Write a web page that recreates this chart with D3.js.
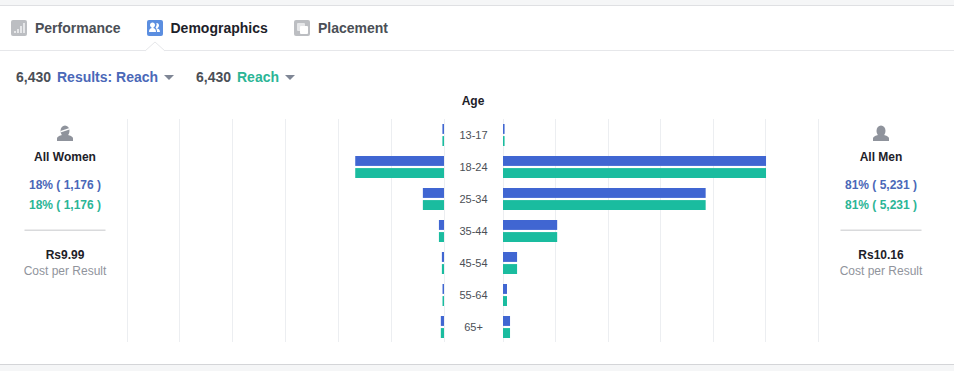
<!DOCTYPE html>
<html>
<head>
<meta charset="utf-8">
<script src="https://cdn.jsdelivr.net/npm/d3@7"></script>
<style>
html,body{margin:0;padding:0;background:#fff;overflow:hidden}
svg{display:block;font-family:"Liberation Sans",Arial,sans-serif}
</style>
</head>
<body>
<div id="chart"></div>
<script>
const ageGroups = ["13-17","18-24","25-34","35-44","45-54","55-64","65+"];
const womenResults = [15,840,200,48,20,14,30];
const womenReach   = [15,840,200,48,20,14,30];
const menResults   = [15,2505,1930,516,134,38,67];
const menReach     = [15,2505,1930,516,134,38,67];
const gridTicks = [0,500,1000,1500,2000,2500,3000];
const tabLabels = ["Performance","Demographics","Placement"];

const W=954,H=371;
const BLUE="#4066d2",GREEN="#1abc9f",TBLUE="#4a68b8",TGREEN="#2bb596";
const svg=d3.select("#chart").append("svg").attr("width",W).attr("height",H);

// page frame
svg.append("rect").attr("width",W).attr("height",5).attr("fill","#f5f6f7");
svg.append("rect").attr("y",5).attr("width",W).attr("height",1).attr("fill","#dfe0e3");
svg.append("rect").attr("y",50).attr("width",W).attr("height",1).attr("fill","#e6e7ea");
svg.append("rect").attr("y",364).attr("width",W).attr("height",1).attr("fill","#d4d5d8");
svg.append("rect").attr("y",365).attr("width",W).attr("height",6).attr("fill","#f5f6f7");
// active tab pointer
svg.append("path").attr("d","M145 51L155 42L165 51").attr("fill","#fff").attr("stroke","#e6e7ea");

// tabs
const tabX=[35,170.500,318], iconX=[11,147,294], tabCol=["#4b4f56","#1d2129","#4b4f56"], iconCol=["#bcbec2","#5b8ee0","#bcbec2"];
tabLabels.forEach((t,i)=>{
  svg.append("rect").attr("x",iconX[i]).attr("y",20).attr("width",16).attr("height",16).attr("rx",2).attr("fill",iconCol[i]);
  svg.append("text").attr("x",tabX[i]).attr("y",33).attr("font-size",14).attr("font-weight",700)
    .attr("fill",tabCol[i]).text(t);
});
const g0=svg.append("g").attr("fill","#e6e7e9");
[[14,31,2,2],[17,29,2,4],[20,26,2,7],[23,23,2,10]].forEach(r=>g0.append("rect").attr("x",r[0]).attr("y",r[1]).attr("width",r[2]).attr("height",r[3]));
svg.append("path").attr("fill","#fff").attr("d","M149 32c0-3 1.500-4 3-4c-1.500-.8-2-2-2-3c0-1.500 1-2.500 2.500-2.500s2.500 1 2.500 2.500c0 1-.5 2.200-2 3c1.500 0 3 1 3 4z M157 32c0-2-.5-3.500-1.500-4.500c0-.3 1-1 1.200-3c0-.6-.2-1-.4-1.500c1.700-.2 2.700 1 2.700 2.500c0 1-.5 2.200-2 3c1.500 0 3 1 3 3.500z");
svg.append("rect").attr("x",297).attr("y",23).attr("width",8).attr("height",8).attr("rx",1).attr("fill","#e6e7e9");
svg.append("rect").attr("x",300).attr("y",26).attr("width",8).attr("height",8).attr("rx",1).attr("fill","#fff");

// metrics row
function metric(xNum,xLab,label,col,xTri){
  svg.append("text").attr("x",xNum).attr("y",82).attr("font-size",14).attr("font-weight",700).attr("fill","#4b4f56").text("6,430");
  svg.append("text").attr("x",xLab).attr("y",82).attr("font-size",14).attr("font-weight",700).attr("fill",col).text(label);
  svg.append("path").attr("d",`M${xTri} 75h10l-5 5z`).attr("fill","#7f8695");
}
metric(16,57,"Results: Reach",TBLUE,164);
metric(196,237,"Reach",TGREEN,285);

svg.append("text").attr("x",473).attr("y",105).attr("text-anchor","middle").attr("font-size",12).attr("font-weight",700).attr("fill","#1d2129").text("Age");

// scales
const xRight=d3.scaleLinear().domain([0,3000]).range([503,818]);
const xLeft =d3.scaleLinear().domain([0,3000]).range([444,127]);
const y=d3.scaleBand().domain(ageGroups).range([119,343]);
const ySub=d3.scaleBand().domain(["a","b"]).range([5,27]).paddingInner(0.18);

// gridlines
const grid=svg.append("g").attr("stroke","#eceef1").attr("stroke-width",1);
[xLeft,xRight].forEach(s=>{
  grid.selectAll(null).data(gridTicks).join("line")
    .attr("x1",d=>Math.floor(s(d))+.5).attr("x2",d=>Math.floor(s(d))+.5)
    .attr("y1",119).attr("y2",342);
});

// bars
function bars(vals,scale,key,col,left){
  svg.append("g").attr("fill",col).selectAll("rect").data(vals).join("rect")
    .attr("x",d=>left?scale(d):scale(0))
    .attr("width",d=>left?scale(0)-scale(d):scale(d)-scale(0))
    .attr("y",(d,i)=>y(ageGroups[i])+ySub(key))
    .attr("height",ySub.bandwidth());
}
bars(womenResults,xLeft,"a",BLUE,true);
bars(womenReach,xLeft,"b",GREEN,true);
bars(menResults,xRight,"a",BLUE,false);
bars(menReach,xRight,"b",GREEN,false);

// age labels
svg.append("g").selectAll("text").data(ageGroups).join("text")
  .attr("x",473.500).attr("y",d=>y(d)+y.bandwidth()/2+4)
  .attr("text-anchor","middle").attr("font-size",11).attr("fill","#4b4f56").text(d=>d);

// side panels
function side(cx,title,pct,cost,women){
  const ic=svg.append("g").attr("fill","#8f939c");
  ic.append("ellipse").attr("cx",cx).attr("cy",131).attr("rx",4.500).attr("ry",5.500);
  ic.append("path").attr("d",`M${cx-8} 141v-2.500c0-2 3-3 5-3.500h6c2 .5 5 1.500 5 3.500v2.500z`);
  if(women) ic.append("path").attr("fill","#fff").attr("d",`M${cx-4.500} 131l9-3v1.500l-9 3z`);
  svg.append("text").attr("x",cx).attr("y",161).attr("text-anchor","middle").attr("font-size",12).attr("font-weight",700).attr("fill","#1d2129").text(title);
  svg.append("text").attr("x",cx).attr("y",189).attr("text-anchor","middle").attr("font-size",12).attr("font-weight",700).attr("fill",TBLUE).text(pct);
  svg.append("text").attr("x",cx).attr("y",209).attr("text-anchor","middle").attr("font-size",12).attr("font-weight",700).attr("fill",TGREEN).text(pct);
  svg.append("rect").attr("x",cx-40.500).attr("y",229.500).attr("width",81).attr("height",1.500).attr("fill","#d9dadc");
  svg.append("text").attr("x",cx).attr("y",259).attr("text-anchor","middle").attr("font-size",12).attr("font-weight",700).attr("fill","#1d2129").text(cost);
  svg.append("text").attr("x",cx).attr("y",275).attr("text-anchor","middle").attr("font-size",12).attr("fill","#90949c").text("Cost per Result");
}
side(65,"All Women","18% ( 1,176 )","Rs9.99",true);
side(881,"All Men","81% ( 5,231 )","Rs10.16",false);
</script>
</body>
</html>
